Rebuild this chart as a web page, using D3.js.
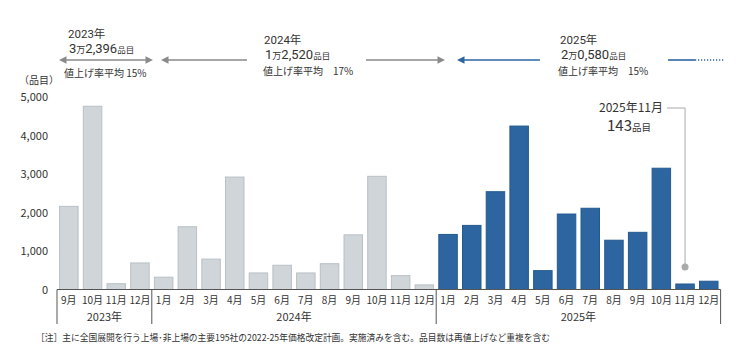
<!DOCTYPE html>
<html>
<head>
<meta charset="utf-8">
<script src="https://cdn.jsdelivr.net/npm/d3@7"></script>
<style>
  body { margin: 0; background: #fff; }
  svg { display: block; font-family: "Noto Sans CJK JP", "Noto Sans", sans-serif; }
</style>
</head>
<body>
<svg id="chart" width="747" height="364"></svg>
<script>
// Monthly counts of price-raised items (品目).
var groups = ['2023年', '2024年', '2025年'];
var months2023 = ['9月', '10月', '11月', '12月'];
var months2024 = ['1月', '2月', '3月', '4月', '5月', '6月', '7月', '8月', '9月', '10月', '11月', '12月'];
var months2025 = ['1月', '2月', '3月', '4月', '5月', '6月', '7月', '8月', '9月', '10月', '11月', '12月'];
var values2023 = [2160, 4760, 150, 690];
var values2024 = [320, 1630, 790, 2920, 430, 630, 430, 670, 1420, 2940, 360, 120];
var values2025 = [1430, 1665, 2540, 4245, 490, 1960, 2110, 1280, 1485, 3150, 143, 215];
var yTicks = [0, 1000, 2000, 3000, 4000, 5000];

// yearly totals shown above the chart
var totalsMan = ['3', '1', '2'];
var totalsRest = ['2,396', '2,520', '0,580'];
var avgRate = ['値上げ率平均 15%', '値上げ率平均\u300017%', '値上げ率平均\u300015%'];

var svg = d3.select('#chart');
var baseY = 289.5;
var textColor = '#333';
var headFont = 'Roboto, "Noto Sans CJK JP", sans-serif';

// Flatten into one row per bar.
var rows = [];
[[months2023, values2023], [months2024, values2024], [months2025, values2025]].forEach(function(g, gi) {
  g[0].forEach(function(m, i) {
    rows.push({ key: gi + '-' + m, month: m, value: g[1][i], group: gi });
  });
});

var x = d3.scaleBand()
  .domain(rows.map(function(d) { return d.key; }))
  .range([57, 720.6])
  .paddingInner(0.22)
  .paddingOuter(0.11);

var y = d3.scaleLinear()
  .domain([0, 5000])
  .range([baseY, 97]);

// y tick labels (no axis line)
svg.append('g')
  .attr('transform', 'translate(48,0)')
  .call(d3.axisLeft(y).tickValues(yTicks).tickSize(0).tickPadding(0).tickFormat(d3.format(',')))
  .call(function(g) { g.select('.domain').remove(); })
  .selectAll('text')
    .attr('font-size', 11)
    .attr('font-family', '"Noto Sans CJK JP", sans-serif')
    .attr('fill', textColor);

svg.append('text')
  .attr('x', 19).attr('y', 84)
  .attr('font-size', 10).attr('fill', textColor)
  .text('（品目）');

// bars
svg.append('g')
  .selectAll('rect')
  .data(rows)
  .enter().append('rect')
    .attr('x', function(d) { return x(d.key); })
    .attr('y', function(d) { return y(d.value); })
    .attr('width', x.bandwidth())
    .attr('height', function(d) { return baseY - y(d.value); })
    .attr('fill', function(d) { return d.group === 2 ? '#2c65a0' : '#cfd5d9'; })
    .attr('stroke', function(d) { return d.group === 2 ? '#245a8e' : '#b9c0c5'; })
    .attr('stroke-width', 1);

// base line and group separators
var step = x.step();
var left = x.range()[0], right = x.range()[1];
svg.append('line')
  .attr('x1', left).attr('x2', right)
  .attr('y1', baseY).attr('y2', baseY)
  .attr('stroke', '#555').attr('stroke-width', 1);

var bounds = [left];
var counts = [months2023.length, months2024.length, months2025.length];
var acc = 0;
counts.forEach(function(c) { acc += c; bounds.push(left + acc * step); });
svg.append('g').selectAll('line')
  .data(bounds)
  .enter().append('line')
    .attr('x1', function(d) { return d; }).attr('x2', function(d) { return d; })
    .attr('y1', baseY).attr('y2', 324)
    .attr('stroke', '#555').attr('stroke-width', 1);

// month labels
svg.append('g').selectAll('text')
  .data(rows)
  .enter().append('text')
    .attr('x', function(d) { return x(d.key) + x.bandwidth() / 2; })
    .attr('y', 304)
    .attr('text-anchor', 'middle')
    .attr('font-size', 10)
    .attr('fill', textColor)
    .text(function(d) { return d.month; });

// group labels
svg.append('g').selectAll('text')
  .data(groups)
  .enter().append('text')
    .attr('x', function(d, i) { return (bounds[i] + bounds[i + 1]) / 2; })
    .attr('y', 321)
    .attr('text-anchor', 'middle')
    .attr('font-size', 11)
    .attr('fill', textColor)
    .text(function(d) { return d; });

// footnote
svg.append('text')
  .attr('x', 36).attr('y', 341)
  .attr('font-size', 9.5)
  .attr('fill', textColor)
  .attr('textLength', 514)
  .attr('lengthAdjust', 'spacingAndGlyphs')
  .text('［注］主に全国展開を行う上場･非上場の主要195社の2022-25年価格改定計画。実施済みを含む。品目数は再値上げなど重複を含む');

// arrows above the chart
var gray = '#8a8a8a', blue = '#2c65a0';
function arrowHead(px, py, dir, col) {
  svg.append('path')
    .attr('d', 'M' + px + ',' + py + 'l' + (-dir * 7.5) + ',-3.8l0,7.6z')
    .attr('fill', col);
}
function hline(x1, x2, col) {
  svg.append('line')
    .attr('x1', x1).attr('x2', x2).attr('y1', 60).attr('y2', 60)
    .attr('stroke', col).attr('stroke-width', 1.6);
}
// 2023
hline(63, 149, gray); arrowHead(59, 60, -1, gray); arrowHead(153, 60, 1, gray);
// 2024
hline(165, 247, gray); arrowHead(161, 60, -1, gray);
hline(366, 441, gray); arrowHead(445, 60, 1, gray);
// 2025
hline(461, 540, blue); arrowHead(457, 60, -1, blue);
hline(668, 695, blue);
svg.append('line')
  .attr('x1', 695).attr('x2', 724).attr('y1', 60).attr('y2', 60)
  .attr('stroke', blue).attr('stroke-width', 1.4).attr('stroke-dasharray', '1.2,1.8');

var labelPos = [[68, 38, 53, 64, 77], [264, 44, 59, 263, 75], [560, 44, 59, 558, 75]];
groups.forEach(function(gName, i) {
  var p = labelPos[i];
  svg.append('text').attr('x', p[0]).attr('y', p[1])
    .attr('font-family', headFont)
    .attr('font-size', 11.5).attr('fill', textColor).text(gName);
  var t = svg.append('text').attr('x', p[0] + 1).attr('y', p[2])
    .attr('font-family', headFont).attr('fill', textColor);
  t.append('tspan').attr('font-size', 13).text(totalsMan[i]);
  t.append('tspan').attr('font-size', 9).text('万');
  t.append('tspan').attr('font-size', 13).text(totalsRest[i]);
  t.append('tspan').attr('font-size', 8.5).text('品目');
  svg.append('text').attr('x', p[3]).attr('y', p[4])
    .attr('font-size', 10).attr('fill', textColor).text(avgRate[i]);
});

// callout for 2025年11月
var nov = rows[rows.length - 2];
var cx = x(nov.key) + x.bandwidth() / 2;
svg.append('path')
  .attr('d', 'M' + 667 + ',108H' + cx + 'V' + (y(nov.value) - 20))
  .attr('fill', 'none').attr('stroke', '#aaa').attr('stroke-width', 1);
svg.append('circle')
  .attr('cx', cx).attr('cy', y(nov.value) - 17)
  .attr('r', 3.5).attr('fill', '#aaa');
svg.append('text').attr('x', 663).attr('y', 112)
  .attr('text-anchor', 'end').attr('font-size', 12).attr('fill', textColor)
  .text('2025年11月');
var c2 = svg.append('text').attr('x', 629).attr('y', 131)
  .attr('text-anchor', 'middle').attr('fill', textColor);
c2.append('tspan').attr('font-size', 15).text(d3.format(',')(nov.value));
c2.append('tspan').attr('font-size', 9.5).text('品目');
</script>
</body>
</html>
